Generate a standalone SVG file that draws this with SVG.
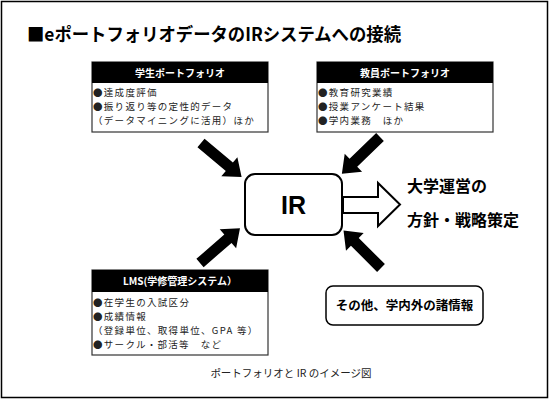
<svg xmlns="http://www.w3.org/2000/svg" width="550" height="400" viewBox="0 0 550 400">
<defs>
<style>
.jp{font-family:"Noto Sans CJK JP","Liberation Sans",sans-serif;}
.title{font-size:18px;font-weight:bold;fill:#000;}
.hdr{font-size:10px;font-weight:bold;fill:#fff;}
.body{font-size:9.5px;letter-spacing:1.3px;fill:#222;}
.box{fill:#fff;stroke:#333;stroke-width:1.2;}
.hbar{fill:#000;}
.blk{fill:#000;}
.big{font-size:16px;font-weight:bold;fill:#000;}
</style>
<polygon id="arr" points="0,-5.5 37,-5.5 37,-12.5 53,0 37,12.5 37,5.5 0,5.5"/>
</defs>
<rect x="1.5" y="1.5" width="546" height="396" fill="#fff" stroke="#000" stroke-width="1.5"/>
<text class="jp title" x="27" y="41" textLength="374" lengthAdjust="spacingAndGlyphs">■eポートフォリオデータのIRシステムへの接続</text>

<g id="student">
<rect class="box" x="92" y="62" width="176" height="70"/>
<rect class="hbar" x="92" y="62" width="176" height="21"/>
<text class="jp hdr" x="180" y="76.5" text-anchor="middle">学生ポートフォリオ</text>
<text class="jp body" x="93" y="96">●達成度評価</text>
<text class="jp body" x="93" y="110">●振り返り等の定性的データ</text>
<text class="jp body" x="93" y="124">（データマイニングに活用）ほか</text>
</g>

<g id="teacher">
<rect class="box" x="317" y="62" width="176" height="70"/>
<rect class="hbar" x="317" y="62" width="176" height="21"/>
<text class="jp hdr" x="405" y="76.5" text-anchor="middle">教員ポートフォリオ</text>
<text class="jp body" x="318" y="96">●教育研究業績</text>
<text class="jp body" x="318" y="110">●授業アンケート結果</text>
<text class="jp body" x="318" y="124">●学内業務　ほか</text>
</g>

<g id="lms">
<rect class="box" x="92" y="270" width="176" height="85"/>
<rect class="hbar" x="92" y="270" width="176" height="22"/>
<text class="jp hdr" x="180" y="285" text-anchor="middle">LMS(学修管理システム）</text>
<text class="jp body" x="93" y="306">●在学生の入試区分</text>
<text class="jp body" x="93" y="320">●成績情報</text>
<text class="jp body" x="93" y="334">（登録単位、取得単位、GPA 等）</text>
<text class="jp body" x="93" y="348">●サークル・部活等　など</text>
</g>

<g id="ir">
<rect x="245" y="174" width="97" height="61" rx="10" fill="#fff" stroke="#000" stroke-width="2"/>
<text x="293.5" y="214" text-anchor="middle" font-family="'Liberation Sans',Arial,sans-serif" font-size="25" font-weight="bold">IR</text>
</g>

<g id="policy">
<text class="jp big" x="407" y="192">大学運営の</text>
<text class="jp big" x="407" y="226">方針・戦略策定</text>
</g>

<g id="other">
<rect x="326" y="286" width="157" height="39" rx="7" fill="#fff" stroke="#000" stroke-width="1.5"/>
<text class="jp" x="404.5" y="310" text-anchor="middle" font-size="12.5" font-weight="bold">その他、学内外の諸情報</text>
</g>

<g id="connectors">
<polygon points="343,197 378,197 378,183 400,204.5 378,226 378,213 343,213" fill="#fff" stroke="#000" stroke-width="2"/>
<use href="#arr" class="blk" transform="translate(201,143) rotate(40)"/>
<use href="#arr" class="blk" transform="translate(380,137) rotate(136)"/>
<use href="#arr" class="blk" transform="translate(200,263) rotate(-41)"/>
<use href="#arr" class="blk" transform="translate(381,268) rotate(-135)"/>
</g>

<text class="jp" x="291" y="377" text-anchor="middle" font-size="10.5" fill="#222">ポートフォリオと IR のイメージ図</text>
</svg>
